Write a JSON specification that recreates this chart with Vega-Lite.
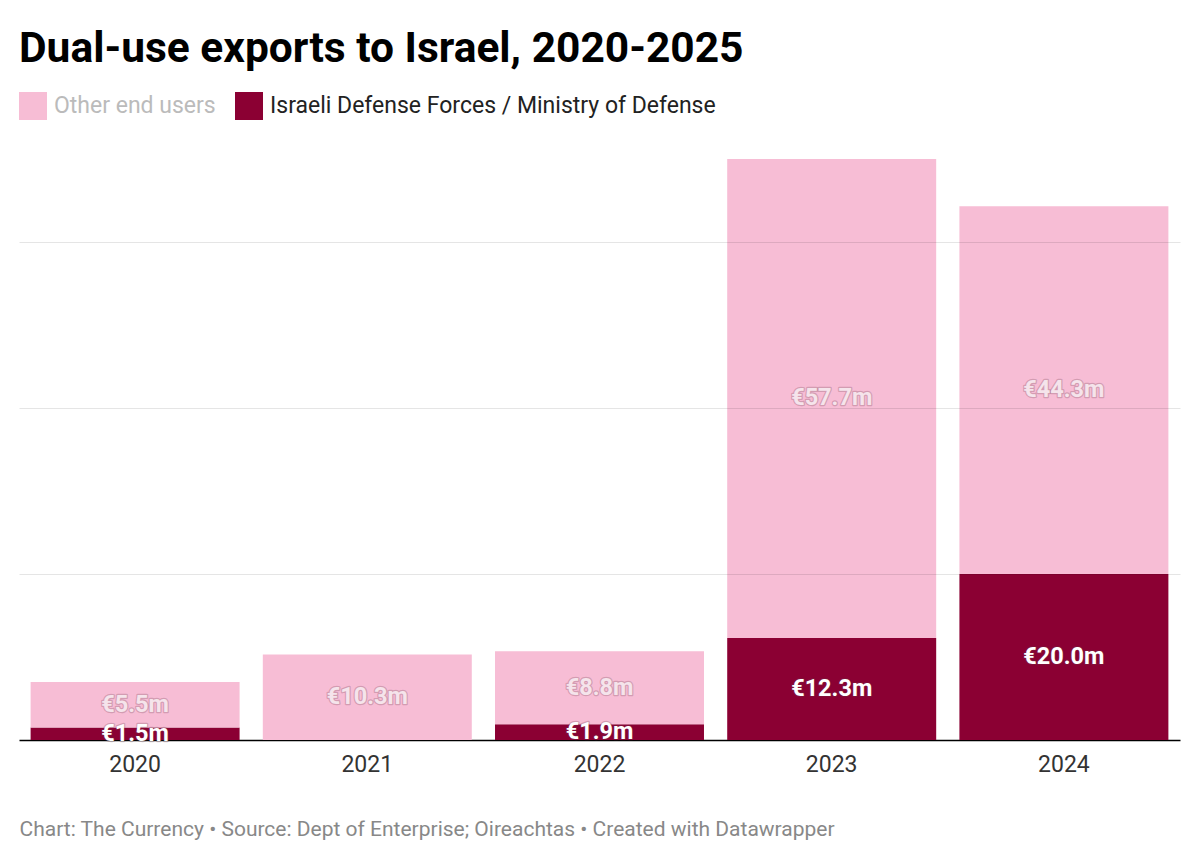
{
  "$schema": "https://vega.github.io/schema/vega-lite/v6.json",
  "width": 1161,
  "height": 581,
  "autosize": {"type": "none"},
  "padding": {"left": 19, "top": 159, "right": 20, "bottom": 127},
  "background": "white",
  "config": {"font": "Roboto", "view": {"stroke": null}},
  "title": {
    "text": "Dual-use exports to Israel, 2020-2025",
    "anchor": "start",
    "frame": "group",
    "fontSize": 42.5,
    "fontWeight": "bold",
    "color": "#000",
    "offset": 22
  },
  "data": {
    "values": [
      {"year": "2020", "group": "Israeli Defense Forces / Ministry of Defense", "value": 1.5},
      {"year": "2020", "group": "Other end users", "value": 5.5},
      {"year": "2021", "group": "Other end users", "value": 10.3},
      {"year": "2022", "group": "Israeli Defense Forces / Ministry of Defense", "value": 1.9},
      {"year": "2022", "group": "Other end users", "value": 8.8},
      {"year": "2023", "group": "Israeli Defense Forces / Ministry of Defense", "value": 12.3},
      {"year": "2023", "group": "Other end users", "value": 57.7},
      {"year": "2024", "group": "Israeli Defense Forces / Ministry of Defense", "value": 20.0},
      {"year": "2024", "group": "Other end users", "value": 44.3}
    ]
  },
  "transform": [
    {"stack": "value", "groupby": ["year"], "sort": [{"field": "group", "order": "ascending"}], "as": ["v0", "v1"]},
    {"calculate": "(datum.v0 + datum.v1) / 2", "as": "mid"},
    {"calculate": "'€' + format(datum.value, '.1f') + 'm'", "as": "label"}
  ],
  "encoding": {
    "x": {
      "field": "year",
      "type": "ordinal",
      "scale": {"paddingInner": 0.1, "paddingOuter": 0.05},
      "axis": {
        "title": "Chart: The Currency • Source: Dept of Enterprise; Oireachtas • Created with Datawrapper",
        "titleAnchor": "start",
        "titleFontSize": 21,
        "titleFontWeight": "normal",
        "titleColor": "#888",
        "titlePadding": 42,
        "labelAngle": 0,
        "labelFontSize": 23,
        "labelColor": "#333",
        "labelPadding": 13,
        "ticks": false,
        "domainColor": "#000",
        "domainWidth": 1.5,
        "grid": false
      }
    }
  },
  "layer": [
    {
      "mark": {"type": "bar"},
      "encoding": {
        "y": {
          "field": "v1",
          "type": "quantitative",
          "scale": {"domain": [0, 70], "nice": false},
          "axis": {
            "values": [20, 40, 60],
            "grid": true,
            "gridColor": "#000",
            "gridOpacity": 0.1,
            "domain": false,
            "ticks": false,
            "labels": false,
            "title": null,
            "zindex": 1
          }
        },
        "y2": {"field": "v0"},
        "color": {
          "field": "group",
          "type": "nominal",
          "scale": {
            "domain": ["Other end users", "Israeli Defense Forces / Ministry of Defense"],
            "range": ["#f7bdd5", "#8b0033"]
          },
          "legend": {
            "orient": "none",
            "legendX": 0,
            "legendY": -67,
            "direction": "horizontal",
            "title": null,
            "symbolType": "square",
            "symbolSize": 784,
            "symbolStrokeWidth": 0,
            "symbolOpacity": 1,
            "labelFontSize": 23,
            "labelLimit": 0,
            "labelColor": "#222",
            "labelOffset": 7,
            "columnPadding": 19,
            "encoding": {
              "labels": {
                "fill": {"condition": {"test": "datum.value == 'Other end users'", "value": "#bbbbbb"}, "value": "#222222"}
              }
            }
          }
        }
      }
    },
    {
      "mark": {"type": "text", "fontSize": 23.5, "fontWeight": "bold", "fillOpacity": 0, "stroke": "#6a3a4a", "strokeOpacity": 0.25, "strokeWidth": 2.5, "strokeJoin": "round"},
      "encoding": {
        "y": {"field": "mid", "type": "quantitative"},
        "text": {"field": "label"}
      }
    },
    {
      "mark": {"type": "text", "fontSize": 23.5, "fontWeight": "bold"},
      "encoding": {
        "y": {"field": "mid", "type": "quantitative"},
        "text": {"field": "label"},
        "color": {"condition": {"test": "datum.group == 'Other end users'", "value": "#f5e4eb"}, "value": "#ffffff"}
      }
    }
  ]
}
